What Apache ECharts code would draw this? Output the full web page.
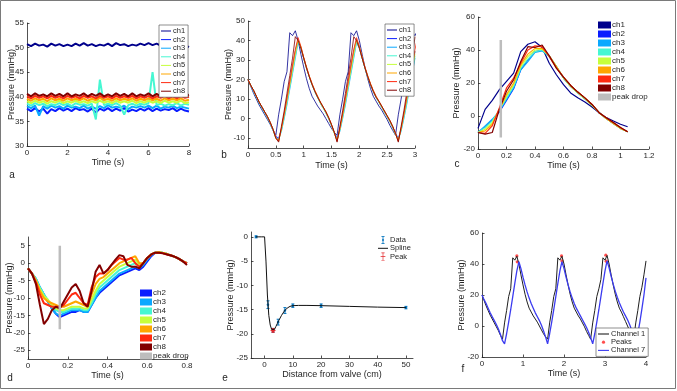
<!DOCTYPE html>
<html>
<head>
<meta charset="utf-8">
<script src="https://cdn.jsdelivr.net/npm/echarts@6/dist/echarts.min.js"></script>
<style>
  html, body { margin: 0; padding: 0; background: #fff; }
  #chart { width: 677px; height: 391px; }
</style>
</head>
<body>
<div id="chart"></div>
<script>
// ---- sample times ----
const tA = [0,0.2,0.4,0.6,0.8,1,1.2,1.4,1.6,1.8,2,2.2,2.4,2.6,2.8,3,3.2,3.4,3.6,3.8,4,4.2,4.4,4.6,4.8,5,5.2,5.4,5.6,5.8,6,6.2,6.4,6.6,6.8,7,7.2,7.4,7.6,7.8,8];
const tBF = [0,0.05,0.1,0.15,0.2,0.25,0.3,0.35,0.4,0.45,0.5,0.55,0.6,0.65,0.7,0.75,0.8,0.85,0.9,0.95,1,1.05,1.1,1.15,1.2,1.25,1.3,1.35,1.4,1.45,1.5,1.55,1.6,1.65,1.7,1.75,1.8,1.85,1.9,1.95,2,2.05,2.1,2.15,2.2,2.25,2.3,2.35,2.4,2.45,2.5,2.55,2.6,2.65,2.7,2.75,2.8,2.85,2.9,2.95,3,3.05,3.1,3.15,3.2,3.25,3.3,3.35,3.4,3.45,3.5,3.55,3.6,3.65,3.7,3.75,3.8,3.85,3.9,3.95,4];
const tC = [0,0.05,0.1,0.15,0.2,0.25,0.3,0.35,0.4,0.45,0.5,0.55,0.6,0.65,0.7,0.75,0.8,0.85,0.9,0.95,1,1.05];
const tD = [0,0.02,0.04,0.06,0.08,0.1,0.12,0.14,0.16,0.18,0.2,0.22,0.24,0.26,0.28,0.3,0.32,0.34,0.36,0.38,0.4,0.42,0.44,0.46,0.48,0.5,0.52,0.54,0.56,0.58,0.6,0.62,0.64,0.66,0.68,0.7,0.72,0.74,0.76,0.78,0.8];

const chNames = ['ch1','ch2','ch3','ch4','ch5','ch6','ch7','ch8'];
const chColors = ['#00008c','#0a1cff','#0aa8ff','#46f7d2','#c6ff3c','#ffa600','#ff2a10','#820000'];

// ---- panel a: baseline recording, 8 s ----
const a1 = [50.7,50.3,50.8,50.4,50.6,50.2,50.8,50.4,50.7,50.3,50.6,50.3,50.8,50.4,50.9,50.4,50.7,50.3,50.6,50.4,50.8,50.3,50.9,50.5,50.7,50.3,50.6,50.4,50.8,50.5,50.9,50.5,50.8,50.4,50.7,50.3,50.6,50.4,50.8,50.5,50.1];
const a2 = [37.6,37.1,37.7,37.0,37.6,36.6,37.5,37.1,37.7,37.2,37.6,37.1,37.7,37.3,37.5,37.0,37.6,36.8,37.6,37.2,37.7,37.1,37.6,37.2,37.7,37.0,37.4,37.1,37.6,37.2,37.7,37.1,37.6,37.2,37.5,37.3,37.7,37.1,37.6,37.2,37.0];
const a3 = [38.1,37.7,38.2,36.2,38.1,37.6,38.2,37.8,38.1,37.6,38.2,37.8,38.0,37.7,38.2,37.6,38.0,37.6,38.1,37.7,38.3,37.8,38.0,37.8,38.2,37.5,38.0,37.8,38.1,37.8,38.2,37.7,38.2,37.6,38.0,37.8,38.2,37.7,38.0,37.8,37.6];
const a4 = [38.6,38.2,38.7,38.3,38.6,38.1,38.5,38.3,38.7,38.3,38.6,38.1,38.7,38.4,38.5,38.2,38.6,35.4,43.5,38.3,38.6,38.3,38.7,38.2,36.4,38.3,38.6,38.2,38.6,38.4,38.7,45.0,38.3,38.6,38.2,38.5,38.3,38.7,38.2,38.6,38.4];
const a5 = [39.1,38.7,39.2,38.8,39.1,38.6,39.1,38.8,39.2,38.7,39.1,38.8,39.2,38.8,39.1,38.7,39.1,38.8,39.2,38.8,39.1,38.7,39.2,38.8,39.1,38.8,39.2,38.7,39.1,38.8,39.2,38.8,39.1,38.7,39.2,38.8,39.1,38.8,39.2,38.7,38.9];
const a6 = [39.6,39.2,39.7,39.3,39.6,39.1,39.7,39.3,39.6,39.2,39.7,39.3,39.6,39.3,39.7,39.2,39.6,39.3,39.8,39.3,39.6,39.2,39.7,39.3,39.6,39.3,39.7,39.2,39.6,39.3,39.7,39.3,39.6,39.2,39.7,39.3,39.6,39.3,39.7,39.2,39.4];
const a7 = [40.1,39.7,40.2,39.8,40.1,39.7,40.2,39.8,40.1,39.7,40.2,39.8,40.1,39.7,40.2,39.8,40.1,39.7,40.2,39.8,40.1,39.7,40.2,39.8,40.1,39.8,40.2,39.7,40.1,39.8,40.2,39.7,40.1,39.8,40.2,39.7,40.1,39.7,40.2,39.8,40.0];
const a8 = [40.6,40.1,40.7,40.2,40.5,40.1,40.7,40.2,40.6,40.1,40.7,40.1,40.5,40.2,40.7,40.1,40.6,40.2,40.7,40.1,40.5,40.1,40.7,40.2,40.6,40.1,40.7,40.1,40.5,40.2,40.7,40.1,40.6,40.1,40.7,40.2,40.5,40.1,40.7,40.2,40.4];

// ---- panels b / f: pulsatile recording (ch1 and ch7 run to 4 s) ----
const b1 = [20,16.5,13,10,7,4.5,2,-0.5,-3,-6,-8.5, 2,10,19,24,44,42.5,45,40, 33,26.5,20.5,15.5,11.5,9,6.5,4.5,2.5,0,-2.5,-5,-7,-8.5, 2,10,19,24,44,42.5,45, 40,33,26.5,20.5,15.5,11.5,9,6.5,4.5,2,-0.5,-3.5,-6,-8.5, 2,10,19,24,30,44,42.5,45.5, 40,33,26.5,20.5,15.5,11.5,9,6,3,0,-3,-6,-8.5, 2,10,19,25,33,42];
const b2 = [20,17,14.5,11.5,8.5,6,3.5,1,-2,-5.5,-9,-10, -5.5,1.5,9.5,18,26.5,34.5,40.5, 36.5,31,26,21.5,17.5,14,11,8,5.5,3,0,-3.5,-7,-10, -5.5,1.5,9.5,18,26.5,34.5,40.5, 36.5,31,26,21.5,17.5,14,11,8.5,6,3.5,1,-1.5,-4.5,-7.5,-10, -5.5,1.5,9.5,18,26.5,34.5];
const b3 = [20,17,14,11,8,5.5,3,0.5,-2.5,-6,-9.5,-10.5, -6.5,0,7,15,23,31,39, 36,31,26,21.5,17.5,14,11,8,5.5,3,0,-3.5,-7,-10.5, -6.5,0,7,15,23,31,39, 36,31,26,21.5,17.5,14,11,8.5,6,3.5,1,-1.5,-4.5,-7.5,-10.5, -6.5,0,7,15,23,31];
const b4 = [20,17,14,11,8,5.5,3,0.5,-2.5,-6,-10,-11, -6,0.5,8,16,24,32,39.5, 36.5,31,26,21.5,17.5,14,11,8,5.5,3,0,-3.5,-7.5,-11, -6,0.5,8,16,24,32,39.5, 36.5,31,26,21.5,17.5,14,11,8.5,6,3.5,1,-1.5,-4.5,-8,-11, -6,0.5,8,16,24,32];
const b5 = [20,17,14.5,11.5,8.5,6,3.5,1,-2,-5.5,-10,-11, -5.5,1.5,9,17,25,33,40, 36.5,31,26,21.5,17.5,14,11,8,5.5,3,0,-3.5,-7.5,-11, -5.5,1.5,9,17,25,33,40, 36.5,31,26,21.5,17.5,14,11,8.5,6,3.5,1,-1.5,-4.5,-8,-11, -5.5,1.5,9,17,25,33];
const b6 = [20,17,14.5,11.5,8.5,6,3.5,1,-2,-5.5,-10,-11.5, -5,2,10,18,26.5,34.5,40.5, 37,31.5,26.5,22,18,14.5,11.5,8.5,6,3.5,0.5,-3,-7,-11.5, -5,2,10,18,26.5,34.5,40.5, 37,31.5,26.5,22,18,14.5,11.5,9,6.5,4,1.5,-1,-4,-7.5,-11.5, -5,2,10,18,26.5,34.5];
const b7 = [20,17,14.5,11.5,8.5,6,3.5,1,-2,-5.5,-9.5,-11.5, -5,2.5,10.5,19,27.5,35.5,41.5, 37,31.5,26.5,22,18,14.5,11.5,8.5,6,3.5,0.5,-3,-7,-11.5, -5,2.5,10.5,19,27.5,35.5,41.5, 37,31.5,26.5,22,18,14.5,11.5,9,6.5,4,1.5,-1,-4,-7.5,-11.5, -5,2.5,10.5,19,27.5,35.5,42, 37.5,32,27,22.5,18.5,15,12,9,6.5,4,1,-2.5,-6.5,-11.5, -5,2.5,11,20,31];
const b8 = [20,17,14.5,11.5,8.5,6,3.5,1,-2,-5.5,-10,-12, -4,4,13,22,31,42,40, 36,31,26,21.5,17.5,14,11,8.5,6,3.5,0.5,-3,-7,-12, -4,4,13,22,31,42,40, 36,31,26,21.5,17.5,14,11,9,6.5,4,1.5,-1,-4,-7.5,-12, -4,4,13,22,31,42];

// ---- panel c: one beat ----
const c1 = [-7.5,4,9.5,16,21,26,39,43.5,45,41.5,32,25,19,14,11,8.5,5.5,2,-1,-3,-5,-6.5];
const c2 = [-10,-6.5,-2.5,2.5,9.5,16.5,28,34,39,40,36.5,30,23,18,14,10.5,6.5,2,-1.5,-4.5,-7.5,-9.5];
const c3 = [-10,-6,-2,3,10,17,28,33,38.5,39.5,36,30,23,18,14,10.5,6.5,2,-1.5,-4.5,-7.5,-9.5];
const c4 = [-10,-7,-3,3.5,11,18,29,34.5,39,40,36,30,23,18,14,10.5,6.5,2,-1.5,-4.5,-7.5,-9.5];
const c5 = [-10,-8,-4,4,12,19,30,36,40,40.5,36.5,30,23,18,14,10.5,6.5,2,-1.5,-4.5,-7.5,-9.5];
const c6 = [-10,-9,-5,4,13,20,31,37.5,41,41,36.5,30,23.5,18.5,14.5,11,7,2,-1.5,-4.5,-7.5,-9.5];
const c7 = [-10,-10.5,-6,5,17,23,32,40,42.5,42,36,29,23.5,18.5,14.5,11,7,2,-1,-4,-7,-9.5];
const c8 = [-10,-11,-10,4,15,22,33,42,41.5,43,36.5,29,23.5,18.5,14.5,11,7,2,-1,-4,-7,-9.5];

// ---- panel d: difference to ch1 ----
const d2 = [-1.5,-3,-4.5,-7,-9,-11,-13,-14.5,-15.5,-15,-14.5,-14,-14,-13.5,-14,-14,-12,-10,-8.5,-7.5,-6.5,-5.5,-4.5,-3.5,-3,-2.5,-2,-1.5,-2,-1,0.5,2,3,3.1,2.9,2.6,2.2,1.8,1.2,0.5,0];
const d3 = [-1.5,-3,-4.5,-7,-9,-11,-13,-14.5,-15,-14.5,-14,-13.5,-13.5,-13.5,-14,-14,-12,-10,-8,-7,-6,-5,-4,-3,-2.5,-2,-1.5,-1,-1.5,-0.5,1,2.3,3,3.1,2.9,2.6,2.2,1.8,1.2,0.5,0];
const d4 = [-1.5,-3,-4.5,-7,-9,-10.5,-12.5,-13.5,-14,-14,-13.5,-13,-13,-13,-13.5,-13.5,-11.5,-9,-7,-6,-5,-4,-3,-2,-1.5,-1,-0.5,0,-1,0,1.5,2.5,3,3.1,2.9,2.6,2.2,1.8,1.2,0.5,0];
const d5 = [-1.5,-3,-5,-7.5,-9.5,-10.5,-12,-13,-13.5,-13.5,-13,-12.5,-12.5,-12.5,-13,-13,-10.5,-8,-6,-5,-4,-3,-2,-1,-0.5,0,0.5,1,-0.5,0,1.5,2.5,3,3.1,2.9,2.6,2.2,1.8,1.2,0.5,0];
const d6 = [-1.5,-3,-5,-8,-10,-11,-11.5,-12,-12.5,-12.5,-12,-11.5,-11,-11.5,-12,-12.5,-9,-6,-4.5,-4,-3,-2,-1,0,0.5,1,1.5,2,0,0,1.5,2.5,3,3.1,2.9,2.6,2.2,1.8,1.2,0.5,0];
const d7 = [-1.5,-3,-5.5,-9,-11.5,-12,-12.5,-12.5,-12.5,-12,-10.5,-9,-8.5,-10,-11.5,-12,-7,-4,-3,-3,-2,-0.5,0.5,1.5,1,1,1.5,0,-1,0,1.5,2.5,3,3,2.8,2.5,2.2,1.8,1.2,0.5,0];
const d8 = [-1.5,-3,-6,-12,-17.5,-16,-13.5,-12.5,-13,-11,-9,-7,-6,-8,-11.5,-12.5,-8,-2.5,-0.5,-3,-2,-0.5,1,2.3,2,-0.5,-1,-1,-1.5,0,1.5,2.5,3,3,2.8,2.5,2.2,1.8,1.2,0.5,-0.5];

// peak drop marker (time, from, to)
const dropT = 0.16;
const dropC = [-13, 46];
const dropD = [-19, 5];

// ---- panel e: peak pressure vs distance ----
const eDist = [-3, 1.2, 3, 4.8, 7.2, 10, 20, 50];
const eMean = [0, -14, -19.3, -17.6, -15.2, -14.2, -14.2, -14.6];
const eErr  = [0.2, 0.8, 0.4, 0.6, 0.6, 0.35, 0.35, 0.25];
const splineX = [-3,-2,-1,0,0.5,1,1.5,2,2.5,3,3.5,4,4.5,5,6,7,8,9,10,12,15,20,30,40,50];
const splineY = [0,0,0,0,-5,-12,-16.2,-18.2,-19.1,-19.4,-19.1,-18.5,-17.9,-17.3,-16.2,-15.3,-14.7,-14.35,-14.2,-14.15,-14.15,-14.2,-14.35,-14.5,-14.6];
const peakE = [3, -19.3, 0.4];

// ---- panel f: detected peaks ----
const peakT = [0.85, 0.86, 1.94, 1.95, 3.02, 3.03];
const peakP = [45.2, 41.4, 45.2, 42, 45.7, 41.8];

const font = '"Liberation Sans", Arial, sans-serif';
const ink = '#262626';

function pairs(t, v) {
  const n = Math.min(t.length, v.length);
  const out = [];
  for (let i = 0; i < n; i++) out.push([t[i], v[i]]);
  return out;
}

function axis(gi, o) {
  const ax = {
    type: 'value', gridIndex: gi, min: o.min, max: o.max,
    name: o.name, nameLocation: 'middle', nameGap: o.gap, nameMoveOverlap: false,
    nameTextStyle: { fontSize: 9, color: ink, fontFamily: font },
    axisLine: { onZero: false, lineStyle: { color: ink, width: 0.8 } },
    axisTick: { inside: true, length: 2.5, lineStyle: { color: ink, width: 0.8 } },
    axisLabel: { fontSize: 8, color: ink, margin: 3, fontFamily: font },
    splitLine: { show: false }
  };
  if (o.ticks) {
    ax.axisLabel.customValues = o.ticks;
    ax.axisTick.customValues = o.ticks;
  } else {
    ax.interval = o.interval;
  }
  return ax;
}

function line(name, gi, t, v, color, w) {
  return {
    type: 'line', name: name, xAxisIndex: gi, yAxisIndex: gi,
    data: pairs(t, v), symbol: 'none', silent: true,
    lineStyle: { color: color, width: w }, itemStyle: { color: color },
    emphasis: { disabled: true }
  };
}

function errorBars(kind) {
  return function (params, api) {
    const x = api.value(0), y = api.value(1), e = api.value(2);
    const c = api.coord([x, y]);
    const hi = api.coord([x, y + e]);
    const lo = api.coord([x, y - e]);
    const col = api.visual('color');
    const st = { stroke: col, lineWidth: 1 };
    const kids = [
      { type: 'line', shape: { x1: c[0], y1: hi[1], x2: c[0], y2: lo[1] }, style: st },
      { type: 'line', shape: { x1: c[0] - 1.5, y1: hi[1], x2: c[0] + 1.5, y2: hi[1] }, style: st },
      { type: 'line', shape: { x1: c[0] - 1.5, y1: lo[1], x2: c[0] + 1.5, y2: lo[1] }, style: st }
    ];
    if (kind === 'dot') {
      kids.push({ type: 'circle', shape: { cx: c[0], cy: c[1], r: 1.3 }, style: { fill: col } });
    } else {
      kids.push({ type: 'line', shape: { x1: c[0] - 2.5, y1: c[1], x2: c[0] + 2.5, y2: c[1] }, style: st });
      kids.push({ type: 'rect', shape: { x: c[0] - 1.5, y: c[1] - 1.5, width: 3, height: 3 }, style: { fill: col } });
    }
    return { type: 'group', children: kids };
  };
}

const series = [];
// a
[a1, a2, a3, a4, a5, a6, a7, a8].forEach((v, i) => series.push(line(chNames[i], 0, tA, v, chColors[i], 2)));
// b
[b1, b2, b3, b4, b5, b6, b7, b8].forEach((v, i) => series.push(line(chNames[i], 1, tBF, v, chColors[i], 0.8)));
// c
[c1, c2, c3, c4, c5, c6, c7, c8].forEach((v, i) => series.push(line(chNames[i], 2, tC, v, chColors[i], 1.2)));
series.push(line('peak drop', 2, [dropT, dropT], dropC, '#bdbdbd', 2.5));
// d
[d2, d3, d4, d5, d6, d7, d8].forEach((v, i) => series.push(line(chNames[i + 1], 3, tD, v, chColors[i + 1], 2)));
series.push(line('peak drop', 3, [dropT, dropT], dropD, '#bdbdbd', 2.5));
// e
series.push({
  type: 'custom', name: 'Data', xAxisIndex: 4, yAxisIndex: 4, silent: true,
  itemStyle: { color: '#0072bd' }, encode: { x: 0, y: 1 },
  data: eDist.map((x, i) => [x, eMean[i], eErr[i]]),
  renderItem: errorBars('dot')
});
series.push(line('Spline', 4, splineX, splineY, '#111', 1));
series.push({
  type: 'custom', name: 'Peak', xAxisIndex: 4, yAxisIndex: 4, silent: true,
  itemStyle: { color: '#e3262a' }, encode: { x: 0, y: 1 },
  data: [peakE], renderItem: errorBars('plus')
});
// f
series.push(line('Channel 1', 5, tBF, b1, '#1f1f1f', 1));
series.push(line('Channel 7', 5, tBF, b7, '#3b3bf0', 1.3));
series.push({
  type: 'scatter', name: 'Peaks', xAxisIndex: 5, yAxisIndex: 5, silent: true,
  data: pairs(peakT, peakP), symbol: 'circle', symbolSize: 3.2,
  itemStyle: { color: '#ff2020' }
});

const lineIcon = 'path://M0,0h10v1h-10z';
const iconData = 'path://M1,0h4v1h-4z M2.5,0h1v10h-1z M1,9h4v1h-4z M1.8,4.2h2.4v1.6h-2.4z';
const iconPeak = 'path://M1,0h4v0.9h-4z M2.6,0h0.8v10h-0.8z M1,9.1h4v0.9h-4z M0,4.6h6v0.8h-6z';

const legText = { fontSize: 7.5, color: ink, fontFamily: font, padding: [0, 0, 0, -3] };
const boxLegend = {
  orient: 'vertical', itemWidth: 10, itemHeight: 6, itemGap: 0.6,
  padding: [2, 3, 2, 2], borderColor: '#444', borderWidth: 0.6,
  backgroundColor: '#fff', textStyle: legText, selectedMode: false,
  itemStyle: { borderWidth: 0 }
};
const rectLegend = {
  orient: 'vertical', icon: 'rect', itemWidth: 13, itemHeight: 7, itemGap: 1,
  padding: 0, textStyle: { fontSize: 8, color: ink, fontFamily: font, padding: [0, 0, 0, -4] },
  itemStyle: { borderWidth: 0 }, selectedMode: false
};
const asLines = names => names.map(n => ({ name: n, icon: lineIcon }));

const option = {
  animation: false,
  backgroundColor: '#fff',
  textStyle: { fontFamily: font },
  grid: [
    { left: 27, top: 23, width: 162, height: 123 },
    { left: 248, top: 21, width: 167, height: 127 },
    { left: 478, top: 17, width: 171, height: 132 },
    { left: 28, top: 237, width: 159, height: 122 },
    { left: 251, top: 232, width: 162, height: 126 },
    { left: 482, top: 233, width: 164, height: 124 }
  ],
  xAxis: [
    axis(0, { min: 0, max: 8, interval: 2, name: 'Time (s)', gap: 12 }),
    axis(1, { min: 0, max: 3, interval: 0.5, name: 'Time (s)', gap: 13 }),
    axis(2, { min: 0, max: 1.2, interval: 0.2, name: 'Time (s)', gap: 12 }),
    axis(3, { min: 0, max: 0.8, interval: 0.2, name: 'Time (s)', gap: 12 }),
    axis(4, { min: -4.8, max: 52.5, ticks: [0, 10, 20, 30, 40, 50], name: 'Distance from valve (cm)', gap: 12 }),
    axis(5, { min: 0, max: 4, interval: 1, name: 'Time (s)', gap: 12 })
  ],
  yAxis: [
    axis(0, { min: 30, max: 55, interval: 5, name: 'Pressure (mmHg)', gap: 11 }),
    axis(1, { min: -15, max: 50, ticks: [-10, 0, 10, 20, 30, 40, 50], name: 'Pressure (mmHg)', gap: 14.5 }),
    axis(2, { min: -20, max: 60, interval: 20, name: 'Pressure (mmHg)', gap: 16.5 }),
    axis(3, { min: -27.5, max: 7.5, ticks: [-25, -20, -15, -10, -5, 0, 5], name: 'Pressure (mmHg)', gap: 13.8 }),
    axis(4, { min: -25, max: 1, ticks: [-25, -20, -15, -10, -5, 0], name: 'Pressure (mmHg)', gap: 16 }),
    axis(5, { min: -20, max: 60, interval: 20, name: 'Pressure (mmHg)', gap: 15.5 })
  ],
  legend: [
    Object.assign({}, boxLegend, { left: 159, top: 25, data: asLines(chNames) }),
    Object.assign({}, boxLegend, { left: 385, top: 24, data: asLines(chNames) }),
    Object.assign({}, rectLegend, { left: 598, top: 21, data: chNames.concat(['peak drop']) }),
    Object.assign({}, rectLegend, { left: 140, top: 289, itemWidth: 12, data: chNames.slice(1).concat(['peak drop']) }),
    {
      orient: 'vertical', left: 378, top: 236, itemWidth: 10, itemHeight: 8, itemGap: 0.3,
      padding: 0, textStyle: legText, selectedMode: false, itemStyle: { borderWidth: 0 },
      data: [{ name: 'Data', icon: iconData }, { name: 'Spline', icon: lineIcon }, { name: 'Peak', icon: iconPeak }]
    },
    Object.assign({}, boxLegend, {
      left: 596, top: 328, itemWidth: 11, itemHeight: 3.2, itemGap: 0.2,
      data: [{ name: 'Channel 1', icon: lineIcon }, { name: 'Peaks', icon: 'circle' }, { name: 'Channel 7', icon: lineIcon }]
    })
  ],
  graphic: [
    { type: 'rect', shape: { x: 0.5, y: 0.5, width: 675, height: 388 }, style: { fill: 'none', stroke: '#7a7a7a', lineWidth: 1 }, silent: true },
    { type: 'text', x: 12, y: 175, style: { text: 'a', fontSize: 10, fill: ink, fontFamily: font, align: 'center', verticalAlign: 'middle' } },
    { type: 'text', x: 224, y: 155, style: { text: 'b', fontSize: 10, fill: ink, fontFamily: font, align: 'center', verticalAlign: 'middle' } },
    { type: 'text', x: 457, y: 164, style: { text: 'c', fontSize: 10, fill: ink, fontFamily: font, align: 'center', verticalAlign: 'middle' } },
    { type: 'text', x: 10, y: 378, style: { text: 'd', fontSize: 10, fill: ink, fontFamily: font, align: 'center', verticalAlign: 'middle' } },
    { type: 'text', x: 225, y: 378, style: { text: 'e', fontSize: 10, fill: ink, fontFamily: font, align: 'center', verticalAlign: 'middle' } },
    { type: 'text', x: 463, y: 369, style: { text: 'f', fontSize: 10, fill: ink, fontFamily: font, align: 'center', verticalAlign: 'middle' } }
  ],
  series: series
};

const myChart = echarts.init(document.getElementById('chart'), null, { renderer: 'canvas' });
myChart.setOption(option);
</script>
</body>
</html>
